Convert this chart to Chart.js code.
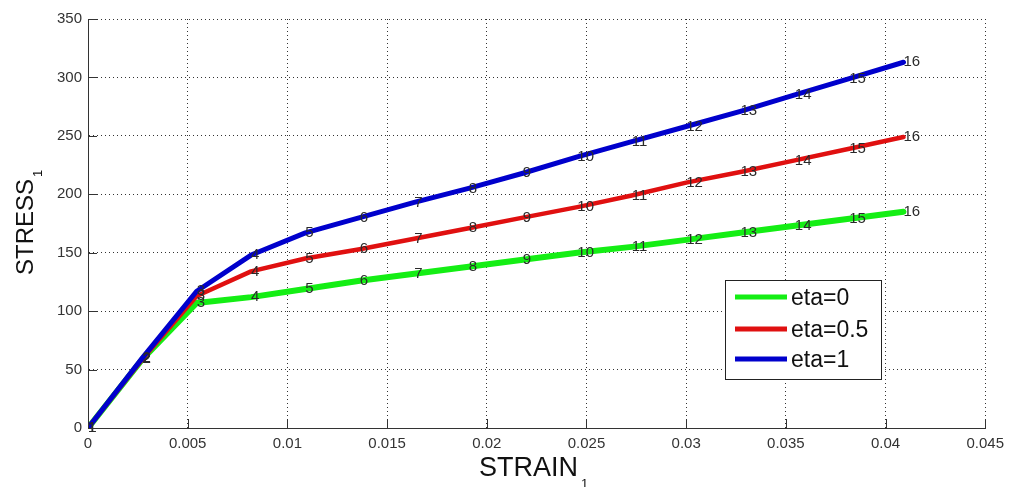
<!DOCTYPE html>
<html>
<head>
<meta charset="utf-8">
<title>STRESS vs STRAIN</title>
<script src="https://cdn.jsdelivr.net/npm/chart.js@4/dist/chart.umd.min.js"></script>
<style>
  html, body { margin: 0; padding: 0; background: #fff; }
  #wrap { width: 1011px; height: 487px; }
</style>
</head>
<body>
<div id="wrap"><canvas id="stressChart" width="1011" height="487"></canvas></div>
<script>
// strain at each load step (16 steps)
const strain = [0, 0.00273, 0.00545, 0.00818, 0.0109, 0.01363, 0.01636, 0.01909,
  0.02181, 0.02454, 0.02727, 0.03, 0.03272, 0.03545, 0.03818, 0.0409];

// stress for each eta value
const stressEta0 = [0, 59, 107, 112, 119, 126, 132, 138, 144, 150, 155, 161, 167, 173, 179, 185];
const stressEta05 = [0, 59, 113, 134, 145, 153, 162, 171, 180, 189, 199, 210, 219, 229, 239, 249];
const stressEta1 = [0, 60, 117, 148, 167, 180, 193, 205, 218, 232, 245, 258, 271, 285, 299, 313];

const seriesNames = ['eta=0', 'eta=0.5', 'eta=1'];
const stepLabels = ['1', '2', '3', '4', '5', '6', '7', '8', '9', '10', '11', '12', '13', '14', '15', '16'];

const xTicks = [0, 0.005, 0.01, 0.015, 0.02, 0.025, 0.03, 0.035, 0.04, 0.045];
const yTicks = [0, 50, 100, 150, 200, 250, 300, 350];

function toPoints(ys) {
  return ys.map((y, i) => ({ x: strain[i], y: y }));
}

// step numbers, inward ticks, axis titles and legend box
const extras = {
  id: 'extras',
  afterDatasetsDraw(chart) {
    const ctx = chart.ctx;
    ctx.save();
    ctx.font = '15px "Liberation Sans", Arial, sans-serif';
    ctx.fillStyle = '#2a2a2a';
    ctx.textAlign = 'left';
    ctx.textBaseline = 'middle';
    chart.data.datasets.forEach((ds, di) => {
      const meta = chart.getDatasetMeta(di);
      meta.data.forEach((pt, i) => {
        ctx.fillText(stepLabels[i], pt.x, pt.y);
      });
    });
    ctx.restore();
  },
  afterDraw(chart) {
    const ctx = chart.ctx;
    const area = chart.chartArea;
    const xs = chart.scales.x;
    const ys = chart.scales.y;

    // tick marks pointing into the plot
    ctx.save();
    ctx.strokeStyle = '#333';
    ctx.lineWidth = 1;
    ctx.beginPath();
    xTicks.forEach(v => {
      const px = Math.round(xs.getPixelForValue(v)) + 0.5;
      ctx.moveTo(px, area.bottom);
      ctx.lineTo(px, area.bottom - 9);
    });
    yTicks.forEach(v => {
      const py = Math.round(ys.getPixelForValue(v)) + 0.5;
      ctx.moveTo(area.left, py);
      ctx.lineTo(area.left + 9, py);
    });
    ctx.stroke();
    ctx.restore();

    // axis titles with subscript
    ctx.save();
    ctx.fillStyle = '#111';
    ctx.textBaseline = 'alphabetic';
    ctx.font = '27px "Liberation Sans", Arial, sans-serif';
    ctx.textAlign = 'center';
    const cx = (area.left + area.right) / 2 - 8;
    const w = ctx.measureText('STRAIN').width;
    ctx.fillText('STRAIN', cx, 476);
    ctx.font = '13px "Liberation Sans", Arial, sans-serif';
    ctx.textAlign = 'left';
    ctx.fillText('1', cx + w / 2 + 3, 488);

    ctx.translate(33, 227);
    ctx.rotate(-Math.PI / 2);
    ctx.font = '24px "Liberation Sans", Arial, sans-serif';
    ctx.textAlign = 'center';
    const w2 = ctx.measureText('STRESS').width;
    ctx.fillText('STRESS', 0, 0);
    ctx.font = '13px "Liberation Sans", Arial, sans-serif';
    ctx.textAlign = 'left';
    ctx.fillText('1', w2 / 2 + 2, 9);
    ctx.restore();

    // legend
    const box = { x: 725.5, y: 280.5, w: 156, h: 99 };
    ctx.save();
    ctx.fillStyle = '#fff';
    ctx.fillRect(box.x, box.y, box.w, box.h);
    ctx.strokeStyle = '#222';
    ctx.lineWidth = 1;
    ctx.strokeRect(box.x, box.y, box.w, box.h);
    ctx.font = '23px "Liberation Sans", Arial, sans-serif';
    ctx.textAlign = 'left';
    ctx.textBaseline = 'middle';
    const rows = [297, 329, 359];
    chart.data.datasets.forEach((ds, i) => {
      ctx.strokeStyle = ds.borderColor;
      ctx.lineWidth = 5;
      ctx.beginPath();
      ctx.moveTo(735, rows[i]);
      ctx.lineTo(787, rows[i]);
      ctx.stroke();
      ctx.fillStyle = '#111';
      ctx.fillText(ds.label, 791, rows[i] + 2);
    });
    ctx.restore();
  }
};

const ctx = document.getElementById('stressChart').getContext('2d');
const chart = new Chart(ctx, {
  type: 'line',
  data: {
    datasets: [
      { label: seriesNames[0], data: toPoints(stressEta0), borderColor: '#14ee14', borderWidth: 6, order: 3 },
      { label: seriesNames[1], data: toPoints(stressEta05), borderColor: '#e01010', borderWidth: 4.5, order: 2 },
      { label: seriesNames[2], data: toPoints(stressEta1), borderColor: '#0000cc', borderWidth: 5, order: 1 }
    ]
  },
  options: {
    responsive: false,
    animation: false,
    layout: { padding: { top: 19, right: 24, left: 0, bottom: 0 } },
    elements: {
      point: { radius: 0 },
      line: { tension: 0, borderJoinStyle: 'round', borderCapStyle: 'round', fill: false }
    },
    plugins: {
      legend: { display: false },
      tooltip: { enabled: false }
    },
    scales: {
      x: {
        type: 'linear',
        min: 0,
        max: 0.045,
        afterFit: s => { s.height = 59; },
        afterBuildTicks: s => { s.ticks = xTicks.map(v => ({ value: v })); },
        ticks: {
          padding: 7,
          color: '#333',
          font: { family: '"Liberation Sans", Arial, sans-serif', size: 15 },
          maxRotation: 0,
          callback: v => String(Number(v.toFixed(3)))
        },
        grid: { drawTicks: false, color: 'rgba(0,0,0,0.8)', lineWidth: 1 },
        border: { display: true, color: '#333', width: 1, dash: [1, 3] }
      },
      y: {
        min: 0,
        max: 350,
        afterFit: s => { s.width = 88; },
        afterBuildTicks: s => { s.ticks = yTicks.map(v => ({ value: v })); },
        ticks: {
          padding: 6,
          color: '#333',
          font: { family: '"Liberation Sans", Arial, sans-serif', size: 15 }
        },
        grid: { drawTicks: false, color: 'rgba(0,0,0,0.8)', lineWidth: 1 },
        border: { display: true, color: '#333', width: 1, dash: [1, 3] }
      }
    }
  },
  plugins: [extras]
});
</script>
</body>
</html>
